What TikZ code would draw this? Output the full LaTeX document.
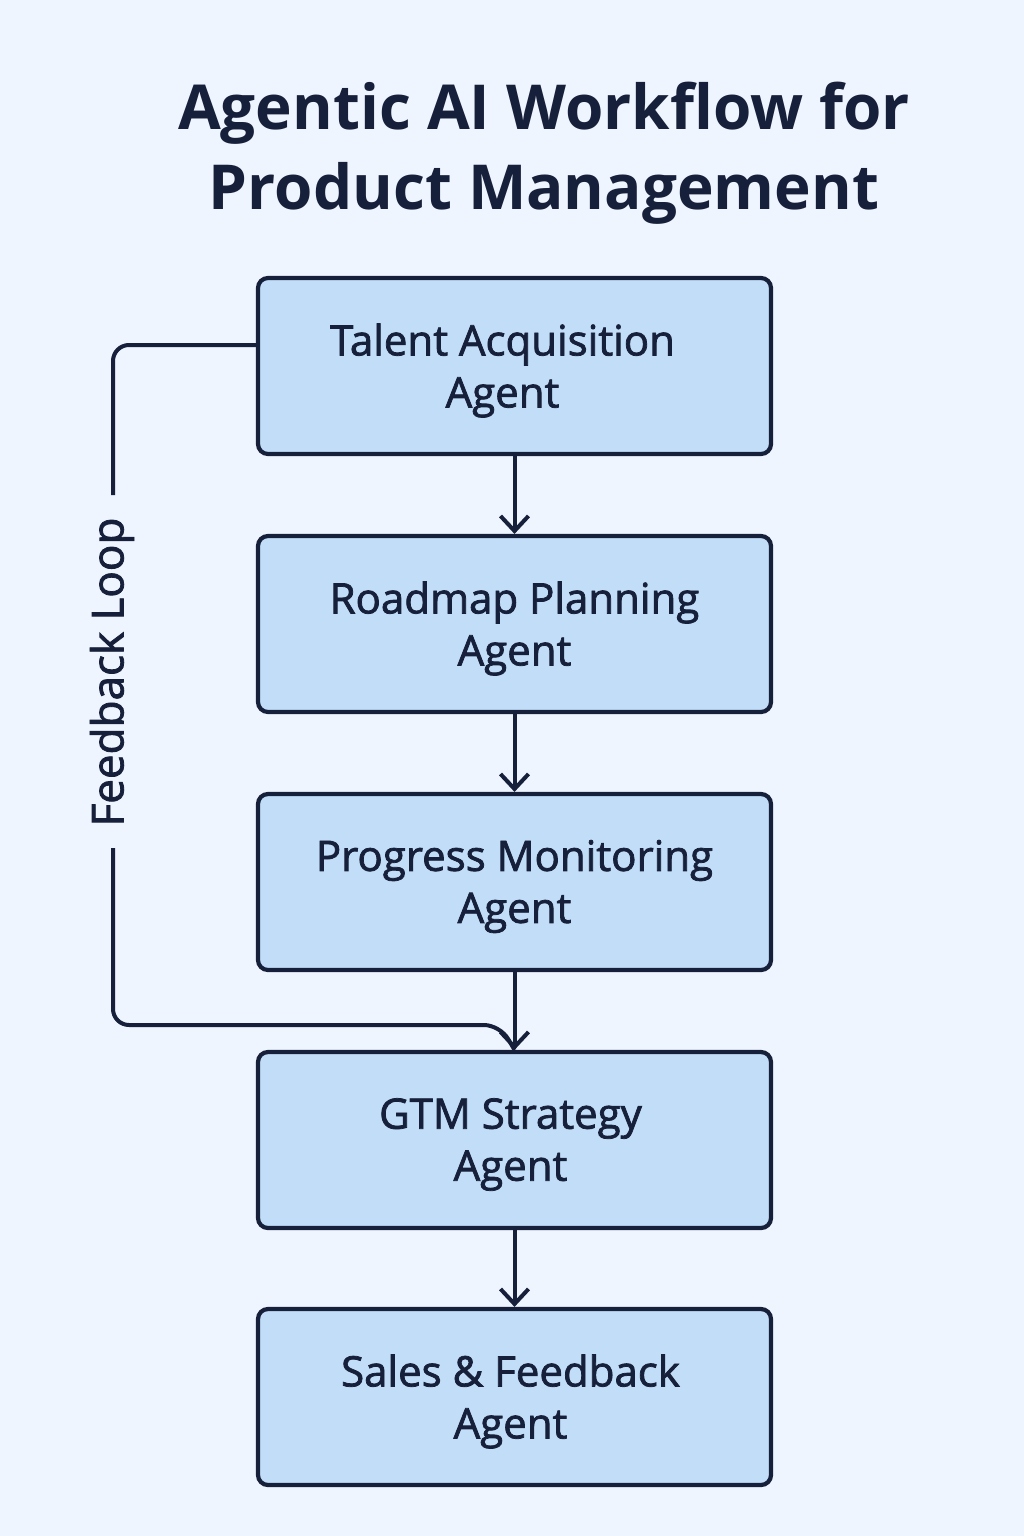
\documentclass[tikz,border=0pt]{standalone}
\usepackage{fontspec}
\setmainfont{Open Sans}
\newfontfamily\semib[FakeBold=1.8]{Open Sans}
\usetikzlibrary{arrows.meta}
\definecolor{bgc}{HTML}{EEF5FE}
\definecolor{boxc}{HTML}{C2DDF8}
\definecolor{inkc}{HTML}{17203A}
\newcommand{\boxtext}[3]{\parbox{513pt}{\centering\vspace*{9pt}\hspace*{#1}#2\\\hspace*{#1}#3}}
\tikzset{
  agentbox/.style={draw=inkc, fill=boxc, line width=4.2pt, rounded corners=10pt,
    minimum width=513pt, minimum height=176pt, align=center, text=inkc,
    font=\semib\fontsize{42}{52}\selectfont, inner sep=0pt},
  flow/.style={draw=inkc, line width=4pt, -{Straight Barb[length=15pt,width=28pt,line width=4pt]}},
  loopline/.style={draw=inkc, line width=4pt, rounded corners=16pt}
}
\begin{document}
\begin{tikzpicture}[x=1pt,y=-1pt]
\fill[bgc] (0,0) rectangle (1024,1536);
\useasboundingbox (0,0) rectangle (1024,1536);
\node[text=inkc, align=center, font=\fontsize{62}{80}\selectfont\bfseries] (title) at (544,153)
  {Agentic AI Workflow for\\Product Management};
\node[agentbox] (b1) at (514.5,366) {\boxtext{-24pt}{Talent Acquisition}{Agent}};
\node[agentbox] (b2) at (514.5,624) {\boxtext{0pt}{Roadmap Planning}{Agent}};
\node[agentbox] (b3) at (514.5,882) {\boxtext{0pt}{Progress Monitoring}{Agent}};
\node[agentbox] (b4) at (514.5,1140) {\boxtext{-8pt}{GTM Strategy}{Agent}};
\node[agentbox] (b5) at (514.5,1397) {\boxtext{-8pt}{Sales \& Feedback}{Agent}};
\draw[flow] (b1.south) -- (b2.north);
\draw[flow] (b2.south) -- (b3.north);
\draw[flow] (b3.south) -- (b4.north);
\draw[flow] (b4.south) -- (b5.north);
\node[rotate=90, text=inkc, font=\semib\fontsize{44}{46}\selectfont] (fb) at (112,672) {Feedback Loop};
\coordinate (fbtop) at (113,495);
\coordinate (fbbot) at (113,848);
\coordinate (fbturn) at (113,1025);
\coordinate (fbend) at (500,1025);
\draw[loopline] (b1.west |- 0,345) -- (113,345) -- (fbtop);
\draw[loopline] (fbbot) -- (fbturn) -- (fbend) -- (b4.north);
\end{tikzpicture}
\end{document}
